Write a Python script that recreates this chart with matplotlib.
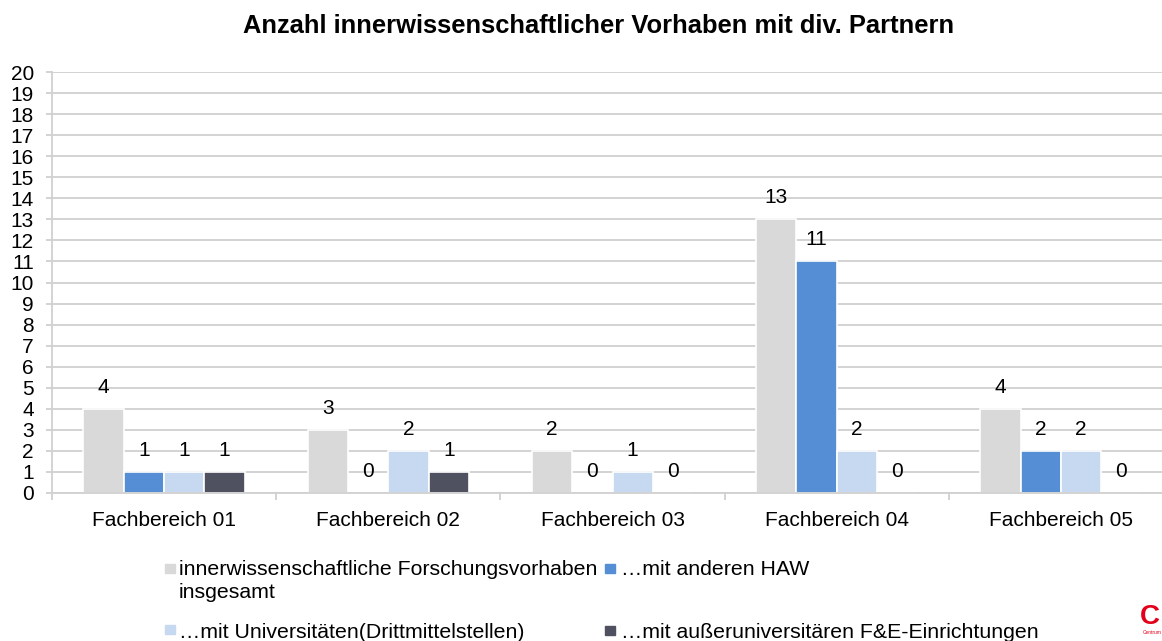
import matplotlib
matplotlib.use("Agg")
import matplotlib.pyplot as plt
import numpy as np
from matplotlib.patches import Rectangle

plt.rcParams['font.family'] = ['Liberation Sans', 'DejaVu Sans']

# data
fachbereiche = ["Fachbereich 01", "Fachbereich 02", "Fachbereich 03",
                "Fachbereich 04", "Fachbereich 05"]
gesamt = [4, 3, 2, 13, 4]
haw = [1, 0, 0, 11, 2]
unis = [1, 2, 1, 2, 2]
ausser = [1, 1, 0, 0, 0]

serien = ["innerwissenschaftliche Forschungsvorhaben\ninsgesamt",
          "…mit anderen HAW",
          "…mit Universitäten(Drittmittelstellen)",
          "…mit außeruniversitären F&E-Einrichtungen"]
farben = ["#D9D9D9", "#558ED5", "#C6D9F1", "#4F5160"]

W, H = 1162, 641
fig = plt.figure(figsize=(W / 100, H / 100), dpi=100)
ax = fig.add_axes([52 / W, 1 - 493 / H, 1 - 52 / W, (493 - 72) / H])

x = np.arange(len(fachbereiche))
bw = 0.18
werte = [gesamt, haw, unis, ausser]
for i, (vals, col) in enumerate(zip(werte, farben)):
    pos = x + (i - 1.5) * bw
    ax.bar(pos, vals, bw, color=col, edgecolor="white", linewidth=1.2, zorder=2)
    for px, v in zip(pos, vals):
        ax.annotate(str(v), (px, v), xytext=(0, 15.5), textcoords="offset points",
                    ha="center", va="center", fontsize=15, zorder=3)

ax.set_ylim(0, 20)
ax.set_yticks(range(0, 21))
ax.yaxis.grid(True, color="#D0D0D0", linewidth=1.3, zorder=0)
ax.set_axisbelow(True)

ax.set_xticks(x)
ax.set_xticklabels(fachbereiche, fontsize=15)
ax.tick_params(axis="x", length=0, pad=13)
ax.set_xticks(np.arange(-0.5, 5, 1), minor=True)
ax.tick_params(axis="x", which="minor", length=5, color="#D0D0D0", width=1.3)
ax.tick_params(axis="y", length=4, color="#D0D0D0", width=1.3, pad=9, labelsize=15)
# set limits after the ticks, the right edge is cut like in the original
ax.set_xlim(-0.5, (W - 165) / 224.0)

for s in ["top", "right"]:
    ax.spines[s].set_visible(False)
for s in ["left", "bottom"]:
    ax.spines[s].set_color("#D0D0D0")
    ax.spines[s].set_linewidth(1.3)

fig.text(599 / W, 1 - 26 / H, "Anzahl innerwissenschaftlicher Vorhaben mit div. Partnern",
         ha="center", va="center", fontsize=18.4, fontweight="bold")

# legend, laid out like the original (2 x 2, first entry wraps)
leg_marker = [(165, 568), (605, 568), (165, 629), (605, 630)]
leg_text = [(179, 560), (621, 560), (179, 623), (621, 623)]
for (mx, my), (tx, ty), name, col in zip(leg_marker, leg_text, serien, farben):
    fig.patches.append(Rectangle((mx / W, 1 - (my + 4.5) / H), 10 / W, 9 / H,
                                 transform=fig.transFigure, color=col))
    fig.text(tx / W, 1 - ty / H, name, ha="left", va="top",
             fontsize=15.3, linespacing=1.27)

# logo in the corner
fig.text(1150 / W, 1 - 617 / H, "C", color="#E2001A", fontsize=20,
         fontweight="bold", ha="center", va="center")
fig.text(1143 / W, 1 - 632 / H, "Centrum", color="#E2001A", fontsize=3.5,
         ha="left", va="center")

fig.savefig("out.png", dpi=100)
